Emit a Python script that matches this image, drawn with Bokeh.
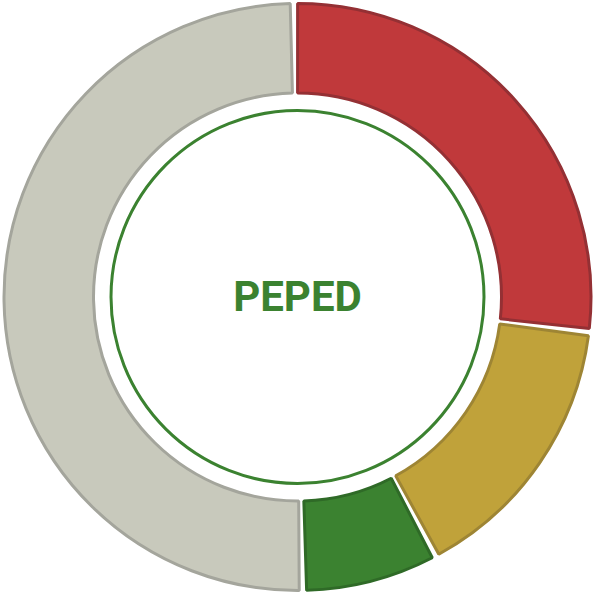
import numpy as np
from bokeh.plotting import figure
from bokeh.models import Range1d, ColumnDataSource
from bokeh.core.properties import value
from bokeh.embed import file_html
from bokeh.resources import INLINE

# data
categories = ["Red", "Yellow", "Green", "Gray"]
values = [27.1, 15.3, 7.5, 50.1]
fill_colors = ["#C0393B", "#C0A23A", "#3B8230", "#C8C9BC"]
line_colors = ["#943034", "#9E8534", "#2F6A27", "#A4A59C"]
center_label = "PEPED"

start_offset_deg = -0.7
W = 593
half = W / 2.0

total = float(sum(values))
cum = np.concatenate([[0.0], np.cumsum(values)]) / total * 360.0 + start_offset_deg
shrink = np.deg2rad(0.72)
starts_cw = np.deg2rad(cum[:-1])
ends_cw = np.deg2rad(cum[1:])
# convert clockwise-from-top to bokeh angles (clock direction)
start_angle = np.pi / 2 - (starts_cw + shrink)
end_angle = np.pi / 2 - (ends_cw - shrink)

src = ColumnDataSource(dict(cat=categories, val=values, start=start_angle, end=end_angle,
                            fill=fill_colors, line=line_colors))

p = figure(width=W, height=W, output_backend="svg", toolbar_location=None,
           x_range=Range1d(-half - 0.5, half - 0.5), y_range=Range1d(-half, half),
           min_border=0, outline_line_color=None, background_fill_color="white",
           border_fill_color="white")
p.axis.visible = False
p.grid.visible = False

p.annular_wedge(x=0, y=0, inner_radius=204, outer_radius=293.5,
                start_angle="start", end_angle="end", direction="clock",
                fill_color="fill", line_color="line", line_width=3, source=src)

p.circle(x=[0], y=[0], radius=186.5, fill_color=None, line_color="#3B8230", line_width=3)

p.text(x=[0], y=[1], text=[center_label], text_align="center", text_baseline="middle",
       text_font=value("Roboto"), text_font_style="bold", text_font_size="42px",
       text_color="#3B8230")

open("out.html", "w").write(file_html(p, INLINE))
